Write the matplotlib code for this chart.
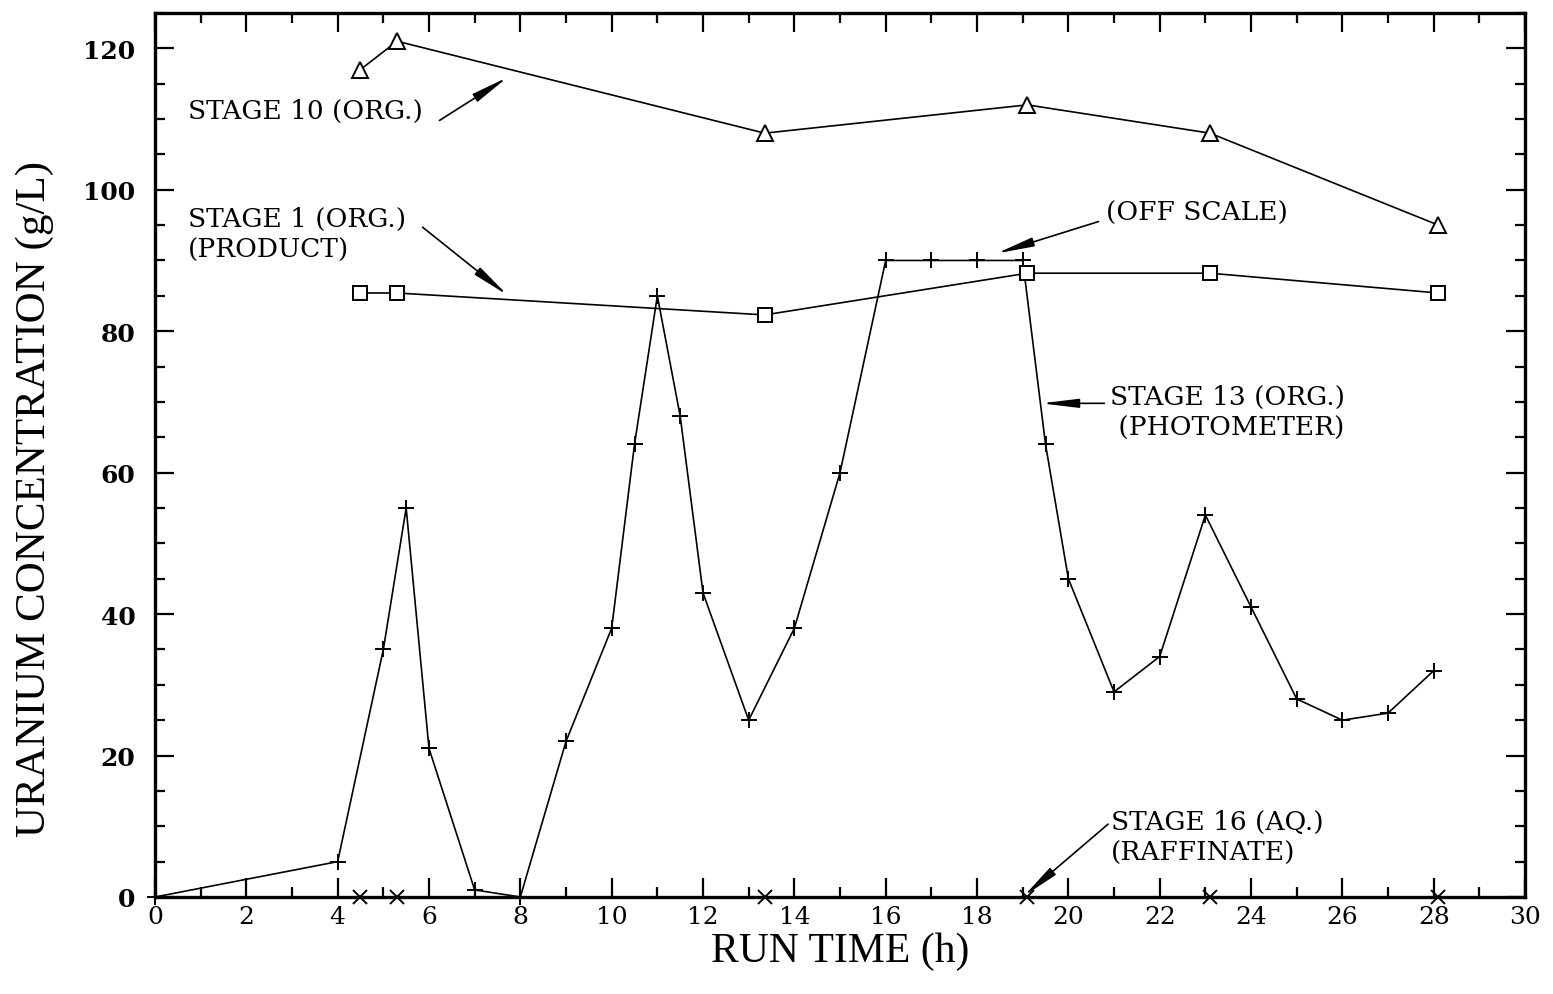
import matplotlib
matplotlib.use("Agg")
import matplotlib.pyplot as plt
from matplotlib.ticker import MultipleLocator

plt.rcParams['font.family'] = ['Liberation Serif', 'DejaVu Serif']

# stage 13 (org.) photometer
t13 = [0, 4, 5, 5.5, 6, 7, 8, 9, 10, 10.5, 11, 11.5, 12, 13, 14, 15, 16, 17, 18, 19,
       19.5, 20, 21, 22, 23, 24, 25, 26, 27, 28]
u13 = [0, 5, 35, 55, 21, 1, 0, 22, 38, 64, 85, 68, 43, 25, 38, 60, 90, 90, 90, 90,
       64, 45, 29, 34, 54, 41, 28, 25, 26, 32]

# sampled stages
t_samp = [4.5, 5.3, 13.35, 19.1, 23.1, 28.1]
u10 = [117, 121, 108, 112, 108, 95]
u1 = [85.4, 85.4, 82.3, 88.2, 88.2, 85.4]
u16 = [0, 0, 0, 0, 0, 0]

# labels: (text, x, y)
labels = [
    ("STAGE 10 (ORG.)", 0.72, 111.2),
    ("STAGE 1 (ORG.)\n(PRODUCT)", 0.72, 93.7),
    ("(OFF SCALE)", 20.83, 96.8),
    ("STAGE 13 (ORG.)\n (PHOTOMETER)", 20.92, 68.6),
    ("STAGE 16 (AQ.)\n(RAFFINATE)", 20.94, 8.5),
]
# arrows: (tail, head)
arrows = [
    ((6.23, 109.8), (7.72, 115.9)),
    ((5.86, 94.7), (7.72, 85.1)),
    ((20.66, 95.5), (18.43, 91.0)),
    ((20.79, 69.8), (19.41, 69.8)),
    ((20.87, 10.3), (19.02, 0.1)),
]

serif = ['DejaVu Serif']

fig = plt.figure(figsize=(15.53, 9.95), dpi=100)
ax = fig.add_axes([0.0998, 0.0975, 0.8822, 0.8885])

ax.plot(t13, u13, color='black', lw=1.2, marker='+', ms=11, mew=1.4, clip_on=False)
ax.plot(t_samp, u10, color='black', lw=1.2, marker='^', ms=11, mfc='white', mew=1.4)
ax.plot(t_samp, u1, color='black', lw=1.2, marker='s', ms=10, mfc='white', mew=1.4)
ax.plot(t_samp, u16, color='black', lw=1.2, marker='x', ms=10, mew=1.4, clip_on=False)

for txt, x, y in labels:
    ax.text(x, y, txt, fontsize=19, family=serif, ha='left', va='center',
            linespacing=1.3)

for tail, head in arrows:
    ax.annotate('', xy=head, xytext=tail,
                arrowprops=dict(arrowstyle='-|>,head_length=1.4,head_width=0.17',
                                color='black', lw=1.2, shrinkA=0, shrinkB=0,
                                mutation_scale=16))

ax.set_xlim(0, 30)
ax.set_ylim(0, 125)
ax.xaxis.set_major_locator(MultipleLocator(2))
ax.xaxis.set_minor_locator(MultipleLocator(1))
ax.yaxis.set_major_locator(MultipleLocator(20))
ax.yaxis.set_minor_locator(MultipleLocator(5))
ax.tick_params(which='both', direction='in', top=True, right=True, width=1.6)
ax.tick_params(which='major', length=14)
ax.tick_params(axis='x', which='major', pad=6)
ax.tick_params(axis='y', which='major', pad=14)
ax.tick_params(which='minor', length=7)
for lab in ax.get_xticklabels():
    lab.set_family(serif)
    lab.set_fontsize(18)
for lab in ax.get_yticklabels():
    lab.set_family(serif)
    lab.set_fontsize(18)
    lab.set_fontweight('bold')
for s in ax.spines.values():
    s.set_linewidth(2.4)

ax.set_xlabel('RUN TIME (h)', fontsize=30, labelpad=2)
ax.set_ylabel('URANIUM CONCENTRATION (g/L)', fontsize=31)
ax.yaxis.set_label_coords(-0.074, 0.451)

fig.savefig('out.png', dpi=100)
